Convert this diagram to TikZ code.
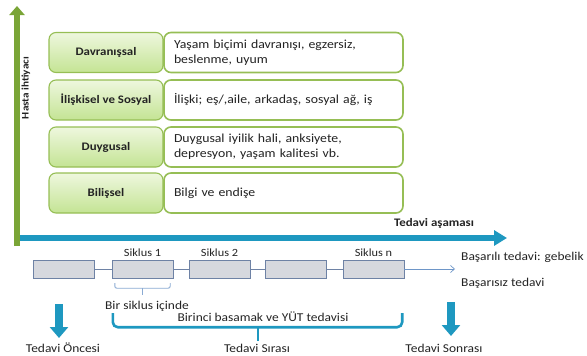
\documentclass[tikz,border=0pt]{standalone}
\usepackage{fontspec}
\setmainfont{Carlito}[FakeStretch=1.12]
\usetikzlibrary{positioning, arrows.meta, calc}
\definecolor{HGreen}{RGB}{122,165,55}
\definecolor{HLine}{RGB}{150,190,85}
\definecolor{HLight}{RGB}{238,247,222}
\definecolor{HMid}{RGB}{196,228,148}
\definecolor{HBlue}{RGB}{30,152,192}
\definecolor{HThin}{RGB}{110,150,200}
\definecolor{HGray}{RGB}{214,216,222}
\definecolor{HEdge}{RGB}{110,130,165}
\definecolor{HText}{RGB}{35,35,35}

\begin{document}
\begin{tikzpicture}[x=1pt, y=-1pt,
    lvl/.style={rectangle, rounded corners=7pt, draw=HLine, line width=1.1pt,
                top color=HLight, bottom color=HMid, minimum width=114pt,
                minimum height=40pt, inner sep=0pt, text=HText,
                font=\fontsize{11.5}{13}\selectfont\bfseries},
    desc/.style={rectangle, rounded corners=7pt, draw=HLine, line width=1.6pt,
                 fill=white, minimum height=40pt, inner xsep=10pt,
                 text width=219pt, align=left, text=HText,
                 font=\fontsize{12.3}{15}\selectfont},
    cyc/.style={rectangle, draw=HEdge, fill=HGray, minimum width=61pt,
                minimum height=18pt, inner sep=0pt},
    lbl/.style={text=HText, inner sep=1pt, font=\fontsize{12}{14}\selectfont},
    axis/.style={line width=5.5pt},
    down/.style={HBlue, line width=8pt, -{Triangle[length=11pt, width=18pt]}},
    brc/.style={HThin!80, line width=0.9pt, rounded corners=2pt},
    bigbrc/.style={HBlue, line width=2.6pt, rounded corners=5pt}
  ]
  \useasboundingbox (0,0) rectangle (587,356);

  % Levels of patient need
  \foreach \i/\y/\a/\b in {
      1/52.5/Davranışsal/{Yaşam biçimi davranışı, egzersiz,\\beslenme, uyum},
      2/100/{İlişkisel ve Sosyal}/{İlişki; eş/,aile, arkadaş, sosyal ağ, iş},
      3/147/Duygusal/{Duygusal iyilik hali, anksiyete,\\depresyon, yaşam kalitesi vb.},
      4/193/Bilişsel/{Bilgi ve endişe}} {
    \node[desc] (d\i) at (283.5,\y) {\b};
    \node[lvl] (l\i) at (106,\y) {\a};
  }

  % Axes
  \coordinate (ybot) at (17,246);
  \coordinate (ytop) at (17,6);
  \coordinate (xl) at (20,238);
  \coordinate (xr) at (507,238);
  \draw[axis, HBlue, -{Triangle[length=13pt, width=15pt]}] (xl) -- (xr);
  \draw[axis, HGreen, -{Triangle[length=9pt, width=15pt]}] (ybot) -- (ytop);
  \node[rotate=90, text=HText, font=\fontsize{10}{12}\selectfont\bfseries]
        (need) at (26,88) {Hasta ihtiyacı};
  \node[text=HText, font=\fontsize{11.5}{13}\selectfont\bfseries]
        (phase) at (434,223) {Tedavi aşaması};

  % Cycles
  \foreach \i/\x in {1/64, 2/142.5, 3/219.5, 4/296, 5/373.5} {
    \node[cyc] (c\i) at (\x,269) {};
  }
  \foreach \i/\j in {1/2, 2/3, 3/4, 4/5} {
    \draw[HEdge, line width=0.6pt] (c\i.east) -- (c\j.west);
  }
  \coordinate (cend) at (455,269);
  \draw[HThin, line width=0.7pt, -{Straight Barb[length=4pt, width=7pt]}] (c5.east) -- (cend);
  \node[lbl, font=\fontsize{11}{13}\selectfont, above=2pt of c2] (s1) {Siklus 1};
  \node[lbl, font=\fontsize{11}{13}\selectfont, above=2pt of c3] (s2) {Siklus 2};
  \node[lbl, font=\fontsize{11}{13}\selectfont, above=2pt of c5] (sn) {Siklus n};
  \node[lbl, anchor=west] (ok) at (460,257) {Başarılı tedavi: gebelik};
  \node[lbl, anchor=west] (nok) at (460,283) {Başarısız tedavi};

  % Braces
  \draw[brc] ($(c2.south west)+(3,5)$) -- ++(0,5) -- ($(c2.south east)+(-3,10)$) -- ++(0,-5);
  \draw[brc] ($(c2.south)+(0,10)$) -- ++(0,7);
  \node[lbl] (one) at (147,306) {Bir siklus içinde};
  \draw[bigbrc] ($(c2.south west)+(1,35)$) |- ($(c5.south east)+(-2,49)$) -- ++(0,-14);
  \draw[bigbrc] ($(c2.south west)!0.5!(c5.south east)+(0,49)$) -- ++(0,14);
  \node[lbl] (first) at (263,317) {Birinci basamak ve YÜT tedavisi};

  % Stages
  \coordinate (pretop) at (59,304);
  \coordinate (prebot) at (59,338);
  \coordinate (posttop) at (451,302);
  \coordinate (postbot) at (451,336);
  \draw[down] (pretop) -- (prebot);
  \draw[down] (posttop) -- (postbot);
  \node[lbl] (pre) at (63,348) {Tedavi Öncesi};
  \node[lbl] (during) at (257,348.5) {Tedavi Sırası};
  \node[lbl] (post) at (444,348) {Tedavi Sonrası};
\end{tikzpicture}
\end{document}
